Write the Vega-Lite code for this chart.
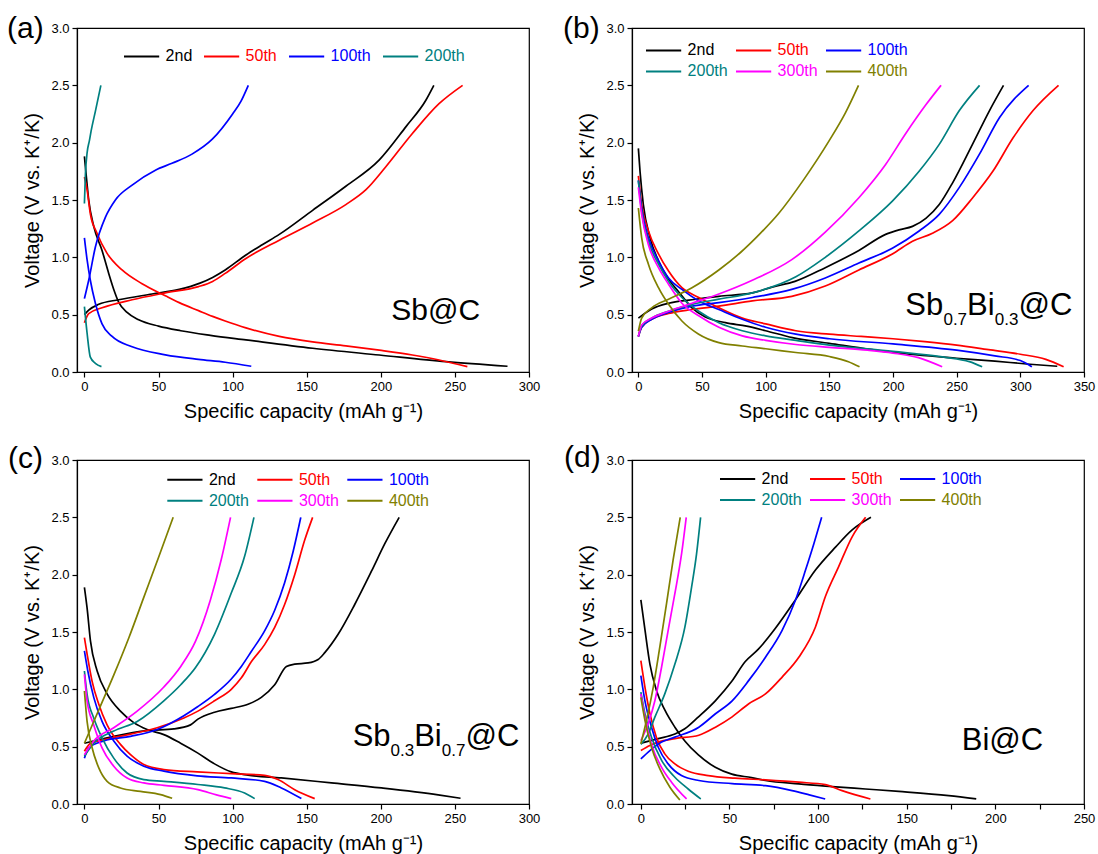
{
"$schema": "https://vega.github.io/schema/vega-lite/v6.json",
"background": "white",
"padding": {"left": 6, "top": 13, "right": 8, "bottom": 4},
"config": {
  "font": "Liberation Sans",
  "view": {"stroke": "#000000", "strokeWidth": 1.2},
  "axis": {"grid": false, "domainColor": "#000000", "domainWidth": 1.2, "tickColor": "#000000", "tickWidth": 1.2, "tickSize": 5, "labelColor": "#000000", "labelFontSize": 13, "labelPadding": 3, "labelFlush": false, "labelOverlap": false, "titleColor": "#000000", "titleFontSize": 20, "titleFontWeight": "normal"},
  "axisY": {"titlePadding": 8},
  "axisX": {"titlePadding": 8},
  "legend": {"symbolType": "M-2.2,0L2.2,0", "symbolSize": 256, "symbolStrokeWidth": 2, "labelFontSize": 16, "labelOffset": 15, "columnPadding": 3, "rowPadding": 4, "padding": 0},
  "title": {"anchor": "start", "frame": "group", "fontSize": 30, "fontWeight": "normal", "color": "#000000", "offset": 0, "baseline": "alphabetic"}
},
"datasets": {
"sbc": [
{"cycle":"2nd","branch":"discharge","cap":0,"V":1.88},{"cycle":"2nd","branch":"discharge","cap":1.1,"V":1.73},{"cycle":"2nd","branch":"discharge","cap":2.9,"V":1.5},{"cycle":"2nd","branch":"discharge","cap":6.3,"V":1.27},{"cycle":"2nd","branch":"discharge","cap":11.9,"V":1.06},{"cycle":"2nd","branch":"discharge","cap":16.4,"V":0.86},{"cycle":"2nd","branch":"discharge","cap":19.8,"V":0.72},{"cycle":"2nd","branch":"discharge","cap":23.1,"V":0.61},{"cycle":"2nd","branch":"discharge","cap":28.8,"V":0.52},{"cycle":"2nd","branch":"discharge","cap":36.6,"V":0.455},{"cycle":"2nd","branch":"discharge","cap":50,"V":0.4},{"cycle":"2nd","branch":"discharge","cap":65,"V":0.36},{"cycle":"2nd","branch":"discharge","cap":85,"V":0.32},{"cycle":"2nd","branch":"discharge","cap":109,"V":0.28},{"cycle":"2nd","branch":"discharge","cap":154,"V":0.207},{"cycle":"2nd","branch":"discharge","cap":199,"V":0.148},{"cycle":"2nd","branch":"discharge","cap":244,"V":0.09},{"cycle":"2nd","branch":"discharge","cap":285.5,"V":0.05},
{"cycle":"2nd","branch":"charge","cap":0,"V":0.5},{"cycle":"2nd","branch":"charge","cap":2.9,"V":0.54},{"cycle":"2nd","branch":"charge","cap":9.7,"V":0.59},{"cycle":"2nd","branch":"charge","cap":23.1,"V":0.63},{"cycle":"2nd","branch":"charge","cap":45.6,"V":0.68},{"cycle":"2nd","branch":"charge","cap":64,"V":0.72},{"cycle":"2nd","branch":"charge","cap":78,"V":0.775},{"cycle":"2nd","branch":"charge","cap":86.5,"V":0.825},{"cycle":"2nd","branch":"charge","cap":95,"V":0.89},{"cycle":"2nd","branch":"charge","cap":109,"V":1.02},{"cycle":"2nd","branch":"charge","cap":120,"V":1.11},{"cycle":"2nd","branch":"charge","cap":131.5,"V":1.2},{"cycle":"2nd","branch":"charge","cap":154,"V":1.41},{"cycle":"2nd","branch":"charge","cap":176.4,"V":1.62},{"cycle":"2nd","branch":"charge","cap":199,"V":1.85},{"cycle":"2nd","branch":"charge","cap":217,"V":2.14},{"cycle":"2nd","branch":"charge","cap":230.4,"V":2.37},{"cycle":"2nd","branch":"charge","cap":235.8,"V":2.5},
{"cycle":"50th","branch":"discharge","cap":0,"V":1.7},{"cycle":"50th","branch":"discharge","cap":1.8,"V":1.59},{"cycle":"50th","branch":"discharge","cap":4,"V":1.38},{"cycle":"50th","branch":"discharge","cap":8.5,"V":1.21},{"cycle":"50th","branch":"discharge","cap":15.3,"V":1.035},{"cycle":"50th","branch":"discharge","cap":25.4,"V":0.89},{"cycle":"50th","branch":"discharge","cap":38.9,"V":0.77},{"cycle":"50th","branch":"discharge","cap":54.6,"V":0.665},{"cycle":"50th","branch":"discharge","cap":64,"V":0.605},{"cycle":"50th","branch":"discharge","cap":77,"V":0.535},{"cycle":"50th","branch":"discharge","cap":86.5,"V":0.485},{"cycle":"50th","branch":"discharge","cap":95,"V":0.445},{"cycle":"50th","branch":"discharge","cap":109,"V":0.385},{"cycle":"50th","branch":"discharge","cap":131.5,"V":0.31},{"cycle":"50th","branch":"discharge","cap":154,"V":0.262},{"cycle":"50th","branch":"discharge","cap":176.4,"V":0.228},{"cycle":"50th","branch":"discharge","cap":199,"V":0.19},{"cycle":"50th","branch":"discharge","cap":221.3,"V":0.148},{"cycle":"50th","branch":"discharge","cap":239.3,"V":0.105},{"cycle":"50th","branch":"discharge","cap":258.4,"V":0.047},
{"cycle":"50th","branch":"charge","cap":0,"V":0.43},{"cycle":"50th","branch":"charge","cap":2.9,"V":0.51},{"cycle":"50th","branch":"charge","cap":11.9,"V":0.56},{"cycle":"50th","branch":"charge","cap":32.2,"V":0.63},{"cycle":"50th","branch":"charge","cap":54.6,"V":0.69},{"cycle":"50th","branch":"charge","cap":77,"V":0.745},{"cycle":"50th","branch":"charge","cap":86.5,"V":0.79},{"cycle":"50th","branch":"charge","cap":95,"V":0.86},{"cycle":"50th","branch":"charge","cap":109,"V":0.99},{"cycle":"50th","branch":"charge","cap":131.5,"V":1.15},{"cycle":"50th","branch":"charge","cap":154,"V":1.3},{"cycle":"50th","branch":"charge","cap":176.4,"V":1.46},{"cycle":"50th","branch":"charge","cap":190,"V":1.59},{"cycle":"50th","branch":"charge","cap":203.4,"V":1.79},{"cycle":"50th","branch":"charge","cap":221.3,"V":2.08},{"cycle":"50th","branch":"charge","cap":239.3,"V":2.34},{"cycle":"50th","branch":"charge","cap":255.2,"V":2.5},
{"cycle":"100th","branch":"discharge","cap":0,"V":1.17},{"cycle":"100th","branch":"discharge","cap":1.8,"V":0.98},{"cycle":"100th","branch":"discharge","cap":4,"V":0.8},{"cycle":"100th","branch":"discharge","cap":7.4,"V":0.6},{"cycle":"100th","branch":"discharge","cap":11.9,"V":0.42},{"cycle":"100th","branch":"discharge","cap":18.7,"V":0.31},{"cycle":"100th","branch":"discharge","cap":32.2,"V":0.22},{"cycle":"100th","branch":"discharge","cap":54.6,"V":0.15},{"cycle":"100th","branch":"discharge","cap":77,"V":0.11},{"cycle":"100th","branch":"discharge","cap":95,"V":0.085},{"cycle":"100th","branch":"discharge","cap":112.6,"V":0.05},
{"cycle":"100th","branch":"charge","cap":0,"V":0.64},{"cycle":"100th","branch":"charge","cap":2.9,"V":0.8},{"cycle":"100th","branch":"charge","cap":7.4,"V":1.09},{"cycle":"100th","branch":"charge","cap":14.2,"V":1.35},{"cycle":"100th","branch":"charge","cap":20.9,"V":1.5},{"cycle":"100th","branch":"charge","cap":32.2,"V":1.63},{"cycle":"100th","branch":"charge","cap":47.9,"V":1.76},{"cycle":"100th","branch":"charge","cap":59.1,"V":1.82},{"cycle":"100th","branch":"charge","cap":72.6,"V":1.9},{"cycle":"100th","branch":"charge","cap":86.3,"V":2.03},{"cycle":"100th","branch":"charge","cap":100,"V":2.25},{"cycle":"100th","branch":"charge","cap":105.6,"V":2.36},{"cycle":"100th","branch":"charge","cap":110.6,"V":2.5},
{"cycle":"200th","branch":"discharge","cap":0,"V":0.57},{"cycle":"200th","branch":"discharge","cap":1.8,"V":0.34},{"cycle":"200th","branch":"discharge","cap":4,"V":0.13},{"cycle":"200th","branch":"discharge","cap":7.4,"V":0.076},{"cycle":"200th","branch":"discharge","cap":11.5,"V":0.047},
{"cycle":"200th","branch":"charge","cap":0,"V":1.47},{"cycle":"200th","branch":"charge","cap":0.7,"V":1.73},{"cycle":"200th","branch":"charge","cap":1.8,"V":1.91},{"cycle":"200th","branch":"charge","cap":3.4,"V":2.02},{"cycle":"200th","branch":"charge","cap":4.5,"V":2.1},{"cycle":"200th","branch":"charge","cap":7.5,"V":2.28},{"cycle":"200th","branch":"charge","cap":11.1,"V":2.5}
],
"sb7": [
{"cycle":"2nd","branch":"discharge","cap":0,"V":1.95},{"cycle":"2nd","branch":"discharge","cap":1.3,"V":1.75},{"cycle":"2nd","branch":"discharge","cap":3.9,"V":1.46},{"cycle":"2nd","branch":"discharge","cap":9.2,"V":1.17},{"cycle":"2nd","branch":"discharge","cap":15.8,"V":0.97},{"cycle":"2nd","branch":"discharge","cap":23.7,"V":0.81},{"cycle":"2nd","branch":"discharge","cap":31.6,"V":0.7},{"cycle":"2nd","branch":"discharge","cap":42.1,"V":0.56},{"cycle":"2nd","branch":"discharge","cap":52.6,"V":0.48},{"cycle":"2nd","branch":"discharge","cap":68.4,"V":0.43},{"cycle":"2nd","branch":"discharge","cap":85,"V":0.4},{"cycle":"2nd","branch":"discharge","cap":100,"V":0.36},{"cycle":"2nd","branch":"discharge","cap":121,"V":0.3},{"cycle":"2nd","branch":"discharge","cap":150,"V":0.25},{"cycle":"2nd","branch":"discharge","cap":200,"V":0.17},{"cycle":"2nd","branch":"discharge","cap":250,"V":0.12},{"cycle":"2nd","branch":"discharge","cap":280,"V":0.095},{"cycle":"2nd","branch":"discharge","cap":305,"V":0.07},{"cycle":"2nd","branch":"discharge","cap":329,"V":0.05},
{"cycle":"2nd","branch":"charge","cap":0,"V":0.47},{"cycle":"2nd","branch":"charge","cap":10.5,"V":0.55},{"cycle":"2nd","branch":"charge","cap":23.7,"V":0.6},{"cycle":"2nd","branch":"charge","cap":42.1,"V":0.63},{"cycle":"2nd","branch":"charge","cap":63.2,"V":0.66},{"cycle":"2nd","branch":"charge","cap":89.5,"V":0.69},{"cycle":"2nd","branch":"charge","cap":105,"V":0.74},{"cycle":"2nd","branch":"charge","cap":123,"V":0.79},{"cycle":"2nd","branch":"charge","cap":146.8,"V":0.91},{"cycle":"2nd","branch":"charge","cap":173.2,"V":1.06},{"cycle":"2nd","branch":"charge","cap":194.2,"V":1.2},{"cycle":"2nd","branch":"charge","cap":204.7,"V":1.24},{"cycle":"2nd","branch":"charge","cap":215.3,"V":1.27},{"cycle":"2nd","branch":"charge","cap":225.8,"V":1.34},{"cycle":"2nd","branch":"charge","cap":236.3,"V":1.46},{"cycle":"2nd","branch":"charge","cap":246.8,"V":1.65},{"cycle":"2nd","branch":"charge","cap":262.6,"V":1.99},{"cycle":"2nd","branch":"charge","cap":275.8,"V":2.28},{"cycle":"2nd","branch":"charge","cap":286.8,"V":2.5},
{"cycle":"50th","branch":"discharge","cap":0,"V":1.71},{"cycle":"50th","branch":"discharge","cap":2.6,"V":1.46},{"cycle":"50th","branch":"discharge","cap":7.9,"V":1.23},{"cycle":"50th","branch":"discharge","cap":15.8,"V":1.03},{"cycle":"50th","branch":"discharge","cap":23.7,"V":0.88},{"cycle":"50th","branch":"discharge","cap":34.2,"V":0.735},{"cycle":"50th","branch":"discharge","cap":47.4,"V":0.65},{"cycle":"50th","branch":"discharge","cap":63.2,"V":0.56},{"cycle":"50th","branch":"discharge","cap":81.6,"V":0.47},{"cycle":"50th","branch":"discharge","cap":100,"V":0.42},{"cycle":"50th","branch":"discharge","cap":123.7,"V":0.36},{"cycle":"50th","branch":"discharge","cap":150,"V":0.33},{"cycle":"50th","branch":"discharge","cap":175,"V":0.31},{"cycle":"50th","branch":"discharge","cap":200,"V":0.29},{"cycle":"50th","branch":"discharge","cap":225,"V":0.265},{"cycle":"50th","branch":"discharge","cap":250,"V":0.235},{"cycle":"50th","branch":"discharge","cap":275,"V":0.195},{"cycle":"50th","branch":"discharge","cap":300,"V":0.155},{"cycle":"50th","branch":"discharge","cap":320,"V":0.11},{"cycle":"50th","branch":"discharge","cap":334,"V":0.045},
{"cycle":"50th","branch":"charge","cap":0,"V":0.31},{"cycle":"50th","branch":"charge","cap":2.6,"V":0.39},{"cycle":"50th","branch":"charge","cap":10.5,"V":0.46},{"cycle":"50th","branch":"charge","cap":23.7,"V":0.51},{"cycle":"50th","branch":"charge","cap":42.1,"V":0.545},{"cycle":"50th","branch":"charge","cap":63.2,"V":0.575},{"cycle":"50th","branch":"charge","cap":89.5,"V":0.62},{"cycle":"50th","branch":"charge","cap":120.5,"V":0.66},{"cycle":"50th","branch":"charge","cap":146.8,"V":0.75},{"cycle":"50th","branch":"charge","cap":173.2,"V":0.89},{"cycle":"50th","branch":"charge","cap":199.5,"V":1.03},{"cycle":"50th","branch":"charge","cap":215.3,"V":1.14},{"cycle":"50th","branch":"charge","cap":231,"V":1.21},{"cycle":"50th","branch":"charge","cap":246.8,"V":1.32},{"cycle":"50th","branch":"charge","cap":262.6,"V":1.52},{"cycle":"50th","branch":"charge","cap":278.4,"V":1.75},{"cycle":"50th","branch":"charge","cap":294.2,"V":2.04},{"cycle":"50th","branch":"charge","cap":310,"V":2.28},{"cycle":"50th","branch":"charge","cap":330,"V":2.5},
{"cycle":"100th","branch":"discharge","cap":0,"V":1.67},{"cycle":"100th","branch":"discharge","cap":2.6,"V":1.43},{"cycle":"100th","branch":"discharge","cap":7.9,"V":1.17},{"cycle":"100th","branch":"discharge","cap":15.8,"V":0.97},{"cycle":"100th","branch":"discharge","cap":23.7,"V":0.82},{"cycle":"100th","branch":"discharge","cap":34.2,"V":0.72},{"cycle":"100th","branch":"discharge","cap":47.4,"V":0.62},{"cycle":"100th","branch":"discharge","cap":63.2,"V":0.545},{"cycle":"100th","branch":"discharge","cap":81.6,"V":0.46},{"cycle":"100th","branch":"discharge","cap":100,"V":0.39},{"cycle":"100th","branch":"discharge","cap":123.7,"V":0.33},{"cycle":"100th","branch":"discharge","cap":150,"V":0.29},{"cycle":"100th","branch":"discharge","cap":200,"V":0.245},{"cycle":"100th","branch":"discharge","cap":250,"V":0.19},{"cycle":"100th","branch":"discharge","cap":280,"V":0.14},{"cycle":"100th","branch":"discharge","cap":300,"V":0.1},{"cycle":"100th","branch":"discharge","cap":309,"V":0.045},
{"cycle":"100th","branch":"charge","cap":0,"V":0.31},{"cycle":"100th","branch":"charge","cap":2.6,"V":0.39},{"cycle":"100th","branch":"charge","cap":10.5,"V":0.46},{"cycle":"100th","branch":"charge","cap":23.7,"V":0.52},{"cycle":"100th","branch":"charge","cap":42.1,"V":0.575},{"cycle":"100th","branch":"charge","cap":63.2,"V":0.605},{"cycle":"100th","branch":"charge","cap":89.5,"V":0.65},{"cycle":"100th","branch":"charge","cap":120.5,"V":0.72},{"cycle":"100th","branch":"charge","cap":146.8,"V":0.82},{"cycle":"100th","branch":"charge","cap":173.2,"V":0.95},{"cycle":"100th","branch":"charge","cap":199.5,"V":1.08},{"cycle":"100th","branch":"charge","cap":220.5,"V":1.23},{"cycle":"100th","branch":"charge","cap":236.3,"V":1.375},{"cycle":"100th","branch":"charge","cap":252.1,"V":1.61},{"cycle":"100th","branch":"charge","cap":267.9,"V":1.9},{"cycle":"100th","branch":"charge","cap":283.7,"V":2.22},{"cycle":"100th","branch":"charge","cap":306.5,"V":2.5},
{"cycle":"200th","branch":"discharge","cap":0,"V":1.67},{"cycle":"200th","branch":"discharge","cap":2.6,"V":1.4},{"cycle":"200th","branch":"discharge","cap":7.9,"V":1.14},{"cycle":"200th","branch":"discharge","cap":15.8,"V":0.94},{"cycle":"200th","branch":"discharge","cap":23.7,"V":0.79},{"cycle":"200th","branch":"discharge","cap":34.2,"V":0.65},{"cycle":"200th","branch":"discharge","cap":47.4,"V":0.53},{"cycle":"200th","branch":"discharge","cap":63.2,"V":0.43},{"cycle":"200th","branch":"discharge","cap":81.6,"V":0.36},{"cycle":"200th","branch":"discharge","cap":100,"V":0.315},{"cycle":"200th","branch":"discharge","cap":123.7,"V":0.276},{"cycle":"200th","branch":"discharge","cap":150,"V":0.235},{"cycle":"200th","branch":"discharge","cap":200,"V":0.18},{"cycle":"200th","branch":"discharge","cap":240,"V":0.13},{"cycle":"200th","branch":"discharge","cap":260,"V":0.09},{"cycle":"200th","branch":"discharge","cap":270,"V":0.045},
{"cycle":"200th","branch":"charge","cap":0,"V":0.31},{"cycle":"200th","branch":"charge","cap":2.6,"V":0.4},{"cycle":"200th","branch":"charge","cap":10.5,"V":0.47},{"cycle":"200th","branch":"charge","cap":23.7,"V":0.53},{"cycle":"200th","branch":"charge","cap":42.1,"V":0.59},{"cycle":"200th","branch":"charge","cap":63.2,"V":0.635},{"cycle":"200th","branch":"charge","cap":89.5,"V":0.69},{"cycle":"200th","branch":"charge","cap":123.7,"V":0.83},{"cycle":"200th","branch":"charge","cap":146.8,"V":1.0},{"cycle":"200th","branch":"charge","cap":173.2,"V":1.23},{"cycle":"200th","branch":"charge","cap":199.5,"V":1.49},{"cycle":"200th","branch":"charge","cap":220.5,"V":1.75},{"cycle":"200th","branch":"charge","cap":236.3,"V":1.985},{"cycle":"200th","branch":"charge","cap":252.1,"V":2.28},{"cycle":"200th","branch":"charge","cap":268,"V":2.5},
{"cycle":"300th","branch":"discharge","cap":0,"V":1.61},{"cycle":"300th","branch":"discharge","cap":2.6,"V":1.375},{"cycle":"300th","branch":"discharge","cap":7.9,"V":1.11},{"cycle":"300th","branch":"discharge","cap":15.8,"V":0.91},{"cycle":"300th","branch":"discharge","cap":23.7,"V":0.765},{"cycle":"300th","branch":"discharge","cap":34.2,"V":0.6},{"cycle":"300th","branch":"discharge","cap":47.4,"V":0.49},{"cycle":"300th","branch":"discharge","cap":63.2,"V":0.39},{"cycle":"300th","branch":"discharge","cap":81.6,"V":0.315},{"cycle":"300th","branch":"discharge","cap":100,"V":0.276},{"cycle":"300th","branch":"discharge","cap":123.7,"V":0.24},{"cycle":"300th","branch":"discharge","cap":150,"V":0.215},{"cycle":"300th","branch":"discharge","cap":180,"V":0.19},{"cycle":"300th","branch":"discharge","cap":200,"V":0.165},{"cycle":"300th","branch":"discharge","cap":220,"V":0.125},{"cycle":"300th","branch":"discharge","cap":238.6,"V":0.045},
{"cycle":"300th","branch":"charge","cap":0,"V":0.31},{"cycle":"300th","branch":"charge","cap":2.6,"V":0.41},{"cycle":"300th","branch":"charge","cap":10.5,"V":0.47},{"cycle":"300th","branch":"charge","cap":23.7,"V":0.53},{"cycle":"300th","branch":"charge","cap":42.1,"V":0.6},{"cycle":"300th","branch":"charge","cap":63.2,"V":0.68},{"cycle":"300th","branch":"charge","cap":89.5,"V":0.8},{"cycle":"300th","branch":"charge","cap":120.5,"V":0.98},{"cycle":"300th","branch":"charge","cap":146.8,"V":1.22},{"cycle":"300th","branch":"charge","cap":173.2,"V":1.52},{"cycle":"300th","branch":"charge","cap":194.2,"V":1.81},{"cycle":"300th","branch":"charge","cap":210,"V":2.08},{"cycle":"300th","branch":"charge","cap":225.8,"V":2.33},{"cycle":"300th","branch":"charge","cap":237.7,"V":2.5},
{"cycle":"400th","branch":"discharge","cap":0,"V":1.43},{"cycle":"400th","branch":"discharge","cap":2.6,"V":1.17},{"cycle":"400th","branch":"discharge","cap":7.9,"V":0.94},{"cycle":"400th","branch":"discharge","cap":15.8,"V":0.735},{"cycle":"400th","branch":"discharge","cap":23.7,"V":0.59},{"cycle":"400th","branch":"discharge","cap":34.2,"V":0.445},{"cycle":"400th","branch":"discharge","cap":47.4,"V":0.33},{"cycle":"400th","branch":"discharge","cap":63.2,"V":0.256},{"cycle":"400th","branch":"discharge","cap":81.6,"V":0.227},{"cycle":"400th","branch":"discharge","cap":100,"V":0.203},{"cycle":"400th","branch":"discharge","cap":123.7,"V":0.17},{"cycle":"400th","branch":"discharge","cap":150,"V":0.135},{"cycle":"400th","branch":"discharge","cap":165,"V":0.09},{"cycle":"400th","branch":"discharge","cap":173.7,"V":0.045},
{"cycle":"400th","branch":"charge","cap":0,"V":0.355},{"cycle":"400th","branch":"charge","cap":2.6,"V":0.47},{"cycle":"400th","branch":"charge","cap":10.5,"V":0.56},{"cycle":"400th","branch":"charge","cap":23.7,"V":0.635},{"cycle":"400th","branch":"charge","cap":42.1,"V":0.735},{"cycle":"400th","branch":"charge","cap":63.2,"V":0.89},{"cycle":"400th","branch":"charge","cap":80,"V":1.04},{"cycle":"400th","branch":"charge","cap":95,"V":1.2},{"cycle":"400th","branch":"charge","cap":110,"V":1.38},{"cycle":"400th","branch":"charge","cap":130,"V":1.68},{"cycle":"400th","branch":"charge","cap":150,"V":2.02},{"cycle":"400th","branch":"charge","cap":162.6,"V":2.26},{"cycle":"400th","branch":"charge","cap":172.9,"V":2.5}
],
"sb3": [
{"cycle":"2nd","branch":"discharge","cap":0,"V":1.89},{"cycle":"2nd","branch":"discharge","cap":1.8,"V":1.71},{"cycle":"2nd","branch":"discharge","cap":4.1,"V":1.42},{"cycle":"2nd","branch":"discharge","cap":8.6,"V":1.16},{"cycle":"2nd","branch":"discharge","cap":15.3,"V":0.96},{"cycle":"2nd","branch":"discharge","cap":24.3,"V":0.81},{"cycle":"2nd","branch":"discharge","cap":33.3,"V":0.71},{"cycle":"2nd","branch":"discharge","cap":42.3,"V":0.65},{"cycle":"2nd","branch":"discharge","cap":53.6,"V":0.605},{"cycle":"2nd","branch":"discharge","cap":64.9,"V":0.53},{"cycle":"2nd","branch":"discharge","cap":76.3,"V":0.446},{"cycle":"2nd","branch":"discharge","cap":87.8,"V":0.35},{"cycle":"2nd","branch":"discharge","cap":99.1,"V":0.28},{"cycle":"2nd","branch":"discharge","cap":110.4,"V":0.252},{"cycle":"2nd","branch":"discharge","cap":132.9,"V":0.227},{"cycle":"2nd","branch":"discharge","cap":166.7,"V":0.184},{"cycle":"2nd","branch":"discharge","cap":200.5,"V":0.14},{"cycle":"2nd","branch":"discharge","cap":238.7,"V":0.08},{"cycle":"2nd","branch":"discharge","cap":253.8,"V":0.05},
{"cycle":"2nd","branch":"charge","cap":0,"V":0.53},{"cycle":"2nd","branch":"charge","cap":19.8,"V":0.59},{"cycle":"2nd","branch":"charge","cap":42.3,"V":0.64},{"cycle":"2nd","branch":"charge","cap":60.4,"V":0.655},{"cycle":"2nd","branch":"charge","cap":71.6,"V":0.69},{"cycle":"2nd","branch":"charge","cap":76.6,"V":0.74},{"cycle":"2nd","branch":"charge","cap":87.8,"V":0.8},{"cycle":"2nd","branch":"charge","cap":99.1,"V":0.834},{"cycle":"2nd","branch":"charge","cap":110.4,"V":0.87},{"cycle":"2nd","branch":"charge","cap":119.4,"V":0.93},{"cycle":"2nd","branch":"charge","cap":128.4,"V":1.04},{"cycle":"2nd","branch":"charge","cap":136.3,"V":1.2},{"cycle":"2nd","branch":"charge","cap":141.9,"V":1.22},{"cycle":"2nd","branch":"charge","cap":150.9,"V":1.23},{"cycle":"2nd","branch":"charge","cap":157.7,"V":1.26},{"cycle":"2nd","branch":"charge","cap":162.2,"V":1.32},{"cycle":"2nd","branch":"charge","cap":171.2,"V":1.48},{"cycle":"2nd","branch":"charge","cap":182.4,"V":1.74},{"cycle":"2nd","branch":"charge","cap":193.7,"V":2.03},{"cycle":"2nd","branch":"charge","cap":202.7,"V":2.27},{"cycle":"2nd","branch":"charge","cap":212.4,"V":2.5},
{"cycle":"50th","branch":"discharge","cap":0,"V":1.45},{"cycle":"50th","branch":"discharge","cap":1.8,"V":1.31},{"cycle":"50th","branch":"discharge","cap":5.2,"V":1.07},{"cycle":"50th","branch":"discharge","cap":9.7,"V":0.87},{"cycle":"50th","branch":"discharge","cap":15.3,"V":0.69},{"cycle":"50th","branch":"discharge","cap":24.3,"V":0.52},{"cycle":"50th","branch":"discharge","cap":31.1,"V":0.43},{"cycle":"50th","branch":"discharge","cap":40.1,"V":0.344},{"cycle":"50th","branch":"discharge","cap":53.6,"V":0.3},{"cycle":"50th","branch":"discharge","cap":76.1,"V":0.28},{"cycle":"50th","branch":"discharge","cap":99.1,"V":0.265},{"cycle":"50th","branch":"discharge","cap":121.6,"V":0.25},{"cycle":"50th","branch":"discharge","cap":130.6,"V":0.213},{"cycle":"50th","branch":"discharge","cap":141.9,"V":0.125},{"cycle":"50th","branch":"discharge","cap":155.4,"V":0.047},
{"cycle":"50th","branch":"charge","cap":0,"V":0.46},{"cycle":"50th","branch":"charge","cap":4.1,"V":0.53},{"cycle":"50th","branch":"charge","cap":13.1,"V":0.56},{"cycle":"50th","branch":"charge","cap":31.1,"V":0.61},{"cycle":"50th","branch":"charge","cap":49.1,"V":0.665},{"cycle":"50th","branch":"charge","cap":67.1,"V":0.75},{"cycle":"50th","branch":"charge","cap":76.6,"V":0.81},{"cycle":"50th","branch":"charge","cap":87.8,"V":0.9},{"cycle":"50th","branch":"charge","cap":99.1,"V":1.0},{"cycle":"50th","branch":"charge","cap":105.9,"V":1.1},{"cycle":"50th","branch":"charge","cap":112.6,"V":1.24},{"cycle":"50th","branch":"charge","cap":121.6,"V":1.39},{"cycle":"50th","branch":"charge","cap":128.4,"V":1.54},{"cycle":"50th","branch":"charge","cap":135.1,"V":1.74},{"cycle":"50th","branch":"charge","cap":141.9,"V":2.0},{"cycle":"50th","branch":"charge","cap":148.6,"V":2.3},{"cycle":"50th","branch":"charge","cap":154,"V":2.5},
{"cycle":"100th","branch":"discharge","cap":0,"V":1.335},{"cycle":"100th","branch":"discharge","cap":2.3,"V":1.16},{"cycle":"100th","branch":"discharge","cap":6.3,"V":0.93},{"cycle":"100th","branch":"discharge","cap":11.9,"V":0.72},{"cycle":"100th","branch":"discharge","cap":19.8,"V":0.55},{"cycle":"100th","branch":"discharge","cap":28.8,"V":0.417},{"cycle":"100th","branch":"discharge","cap":40.1,"V":0.33},{"cycle":"100th","branch":"discharge","cap":53.6,"V":0.286},{"cycle":"100th","branch":"discharge","cap":76.1,"V":0.245},{"cycle":"100th","branch":"discharge","cap":99.1,"V":0.227},{"cycle":"100th","branch":"discharge","cap":121.6,"V":0.198},{"cycle":"100th","branch":"discharge","cap":132.9,"V":0.14},{"cycle":"100th","branch":"discharge","cap":146.4,"V":0.047},
{"cycle":"100th","branch":"charge","cap":0,"V":0.4},{"cycle":"100th","branch":"charge","cap":2.9,"V":0.49},{"cycle":"100th","branch":"charge","cap":13.1,"V":0.55},{"cycle":"100th","branch":"charge","cap":31.1,"V":0.59},{"cycle":"100th","branch":"charge","cap":49.1,"V":0.65},{"cycle":"100th","branch":"charge","cap":67.1,"V":0.77},{"cycle":"100th","branch":"charge","cap":76.6,"V":0.85},{"cycle":"100th","branch":"charge","cap":87.8,"V":0.956},{"cycle":"100th","branch":"charge","cap":99.1,"V":1.09},{"cycle":"100th","branch":"charge","cap":105.9,"V":1.2},{"cycle":"100th","branch":"charge","cap":112.6,"V":1.33},{"cycle":"100th","branch":"charge","cap":121.6,"V":1.51},{"cycle":"100th","branch":"charge","cap":128.4,"V":1.69},{"cycle":"100th","branch":"charge","cap":135.1,"V":1.93},{"cycle":"100th","branch":"charge","cap":140.8,"V":2.2},{"cycle":"100th","branch":"charge","cap":146,"V":2.5},
{"cycle":"200th","branch":"discharge","cap":0,"V":1.16},{"cycle":"200th","branch":"discharge","cap":1.8,"V":0.956},{"cycle":"200th","branch":"discharge","cap":6.3,"V":0.75},{"cycle":"200th","branch":"discharge","cap":11.9,"V":0.577},{"cycle":"200th","branch":"discharge","cap":19.8,"V":0.4},{"cycle":"200th","branch":"discharge","cap":28.8,"V":0.27},{"cycle":"200th","branch":"discharge","cap":40.1,"V":0.213},{"cycle":"200th","branch":"discharge","cap":53.6,"V":0.198},{"cycle":"200th","branch":"discharge","cap":76.6,"V":0.17},{"cycle":"200th","branch":"discharge","cap":94.6,"V":0.14},{"cycle":"200th","branch":"discharge","cap":108.1,"V":0.096},{"cycle":"200th","branch":"discharge","cap":114.9,"V":0.047},
{"cycle":"200th","branch":"charge","cap":0,"V":0.417},{"cycle":"200th","branch":"charge","cap":6.3,"V":0.53},{"cycle":"200th","branch":"charge","cap":19.8,"V":0.636},{"cycle":"200th","branch":"charge","cap":35.6,"V":0.72},{"cycle":"200th","branch":"charge","cap":53.6,"V":0.9},{"cycle":"200th","branch":"charge","cap":65,"V":1.04},{"cycle":"200th","branch":"charge","cap":75,"V":1.19},{"cycle":"200th","branch":"charge","cap":87.8,"V":1.48},{"cycle":"200th","branch":"charge","cap":99.1,"V":1.84},{"cycle":"200th","branch":"charge","cap":108.1,"V":2.16},{"cycle":"200th","branch":"charge","cap":114.4,"V":2.5},
{"cycle":"300th","branch":"discharge","cap":0,"V":1.13},{"cycle":"300th","branch":"discharge","cap":1.8,"V":0.9},{"cycle":"300th","branch":"discharge","cap":6.3,"V":0.69},{"cycle":"300th","branch":"discharge","cap":11.9,"V":0.49},{"cycle":"300th","branch":"discharge","cap":19.8,"V":0.33},{"cycle":"300th","branch":"discharge","cap":28.8,"V":0.227},{"cycle":"300th","branch":"discharge","cap":40.1,"V":0.184},{"cycle":"300th","branch":"discharge","cap":53.6,"V":0.163},{"cycle":"300th","branch":"discharge","cap":76.6,"V":0.125},{"cycle":"300th","branch":"discharge","cap":89.1,"V":0.08},{"cycle":"300th","branch":"discharge","cap":99.1,"V":0.047},
{"cycle":"300th","branch":"charge","cap":0,"V":0.43},{"cycle":"300th","branch":"charge","cap":6.3,"V":0.55},{"cycle":"300th","branch":"charge","cap":19.8,"V":0.665},{"cycle":"300th","branch":"charge","cap":35.6,"V":0.81},{"cycle":"300th","branch":"charge","cap":53.6,"V":1.02},{"cycle":"300th","branch":"charge","cap":65,"V":1.2},{"cycle":"300th","branch":"charge","cap":75,"V":1.42},{"cycle":"300th","branch":"charge","cap":85,"V":1.78},{"cycle":"300th","branch":"charge","cap":92.3,"V":2.13},{"cycle":"300th","branch":"charge","cap":98.6,"V":2.5},
{"cycle":"400th","branch":"discharge","cap":0,"V":0.985},{"cycle":"400th","branch":"discharge","cap":1.8,"V":0.72},{"cycle":"400th","branch":"discharge","cap":5.2,"V":0.49},{"cycle":"400th","branch":"discharge","cap":9.7,"V":0.315},{"cycle":"400th","branch":"discharge","cap":15.3,"V":0.198},{"cycle":"400th","branch":"discharge","cap":24.3,"V":0.14},{"cycle":"400th","branch":"discharge","cap":37.8,"V":0.11},{"cycle":"400th","branch":"discharge","cap":51.4,"V":0.082},{"cycle":"400th","branch":"discharge","cap":59.2,"V":0.05},
{"cycle":"400th","branch":"charge","cap":0,"V":0.53},{"cycle":"400th","branch":"charge","cap":5,"V":0.68},{"cycle":"400th","branch":"charge","cap":10,"V":0.83},{"cycle":"400th","branch":"charge","cap":20,"V":1.13},{"cycle":"400th","branch":"charge","cap":30,"V":1.45},{"cycle":"400th","branch":"charge","cap":40,"V":1.8},{"cycle":"400th","branch":"charge","cap":50,"V":2.15},{"cycle":"400th","branch":"charge","cap":59.9,"V":2.5}
],
"bic": [
{"cycle":"2nd","branch":"discharge","cap":0,"V":1.78},{"cycle":"2nd","branch":"discharge","cap":2.3,"V":1.52},{"cycle":"2nd","branch":"discharge","cap":5.1,"V":1.22},{"cycle":"2nd","branch":"discharge","cap":8.8,"V":0.99},{"cycle":"2nd","branch":"discharge","cap":13.5,"V":0.82},{"cycle":"2nd","branch":"discharge","cap":19.2,"V":0.67},{"cycle":"2nd","branch":"discharge","cap":24.8,"V":0.55},{"cycle":"2nd","branch":"discharge","cap":32.3,"V":0.43},{"cycle":"2nd","branch":"discharge","cap":42,"V":0.32},{"cycle":"2nd","branch":"discharge","cap":51.3,"V":0.26},{"cycle":"2nd","branch":"discharge","cap":62.4,"V":0.23},{"cycle":"2nd","branch":"discharge","cap":70.3,"V":0.205},{"cycle":"2nd","branch":"discharge","cap":89.1,"V":0.175},{"cycle":"2nd","branch":"discharge","cap":107.9,"V":0.152},{"cycle":"2nd","branch":"discharge","cap":126.7,"V":0.131},{"cycle":"2nd","branch":"discharge","cap":145.5,"V":0.11},{"cycle":"2nd","branch":"discharge","cap":173.7,"V":0.073},{"cycle":"2nd","branch":"discharge","cap":189.2,"V":0.044},
{"cycle":"2nd","branch":"charge","cap":0,"V":0.53},{"cycle":"2nd","branch":"charge","cap":9.8,"V":0.57},{"cycle":"2nd","branch":"charge","cap":19.2,"V":0.61},{"cycle":"2nd","branch":"charge","cap":24.8,"V":0.656},{"cycle":"2nd","branch":"charge","cap":32.5,"V":0.76},{"cycle":"2nd","branch":"charge","cap":42,"V":0.9},{"cycle":"2nd","branch":"charge","cap":51.3,"V":1.07},{"cycle":"2nd","branch":"charge","cap":58.8,"V":1.24},{"cycle":"2nd","branch":"charge","cap":66.3,"V":1.35},{"cycle":"2nd","branch":"charge","cap":75.8,"V":1.53},{"cycle":"2nd","branch":"charge","cap":87.2,"V":1.78},{"cycle":"2nd","branch":"charge","cap":98.5,"V":2.04},{"cycle":"2nd","branch":"charge","cap":109.8,"V":2.24},{"cycle":"2nd","branch":"charge","cap":119.2,"V":2.39},{"cycle":"2nd","branch":"charge","cap":129.8,"V":2.5},
{"cycle":"50th","branch":"discharge","cap":0,"V":1.25},{"cycle":"50th","branch":"discharge","cap":2.3,"V":1.02},{"cycle":"50th","branch":"discharge","cap":5.1,"V":0.79},{"cycle":"50th","branch":"discharge","cap":8.8,"V":0.58},{"cycle":"50th","branch":"discharge","cap":13.5,"V":0.437},{"cycle":"50th","branch":"discharge","cap":19.2,"V":0.35},{"cycle":"50th","branch":"discharge","cap":26.7,"V":0.286},{"cycle":"50th","branch":"discharge","cap":38,"V":0.248},{"cycle":"50th","branch":"discharge","cap":53,"V":0.225},{"cycle":"50th","branch":"discharge","cap":70.3,"V":0.21},{"cycle":"50th","branch":"discharge","cap":89.1,"V":0.19},{"cycle":"50th","branch":"discharge","cap":104.1,"V":0.169},{"cycle":"50th","branch":"discharge","cap":113.5,"V":0.117},{"cycle":"50th","branch":"discharge","cap":129.5,"V":0.044},
{"cycle":"50th","branch":"charge","cap":0,"V":0.466},{"cycle":"50th","branch":"charge","cap":5.1,"V":0.51},{"cycle":"50th","branch":"charge","cap":9.8,"V":0.54},{"cycle":"50th","branch":"charge","cap":19.2,"V":0.57},{"cycle":"50th","branch":"charge","cap":32.7,"V":0.6},{"cycle":"50th","branch":"charge","cap":42.1,"V":0.67},{"cycle":"50th","branch":"charge","cap":51.5,"V":0.76},{"cycle":"50th","branch":"charge","cap":60.9,"V":0.874},{"cycle":"50th","branch":"charge","cap":70.3,"V":0.96},{"cycle":"50th","branch":"charge","cap":79.7,"V":1.107},{"cycle":"50th","branch":"charge","cap":89.1,"V":1.28},{"cycle":"50th","branch":"charge","cap":98.5,"V":1.544},{"cycle":"50th","branch":"charge","cap":104.1,"V":1.81},{"cycle":"50th","branch":"charge","cap":111.6,"V":2.07},{"cycle":"50th","branch":"charge","cap":119.2,"V":2.33},{"cycle":"50th","branch":"charge","cap":126.8,"V":2.5},
{"cycle":"100th","branch":"discharge","cap":0,"V":1.12},{"cycle":"100th","branch":"discharge","cap":2.3,"V":0.9},{"cycle":"100th","branch":"discharge","cap":6,"V":0.67},{"cycle":"100th","branch":"discharge","cap":9.8,"V":0.495},{"cycle":"100th","branch":"discharge","cap":15.4,"V":0.35},{"cycle":"100th","branch":"discharge","cap":22.9,"V":0.248},{"cycle":"100th","branch":"discharge","cap":32.7,"V":0.205},{"cycle":"100th","branch":"discharge","cap":51.5,"V":0.178},{"cycle":"100th","branch":"discharge","cap":70.3,"V":0.16},{"cycle":"100th","branch":"discharge","cap":85.3,"V":0.117},{"cycle":"100th","branch":"discharge","cap":95,"V":0.08},{"cycle":"100th","branch":"discharge","cap":104,"V":0.044},
{"cycle":"100th","branch":"charge","cap":0,"V":0.393},{"cycle":"100th","branch":"charge","cap":5.1,"V":0.466},{"cycle":"100th","branch":"charge","cap":11.7,"V":0.54},{"cycle":"100th","branch":"charge","cap":19.2,"V":0.583},{"cycle":"100th","branch":"charge","cap":32.7,"V":0.67},{"cycle":"100th","branch":"charge","cap":42.1,"V":0.787},{"cycle":"100th","branch":"charge","cap":51.5,"V":0.9},{"cycle":"100th","branch":"charge","cap":60.9,"V":1.078},{"cycle":"100th","branch":"charge","cap":70.3,"V":1.28},{"cycle":"100th","branch":"charge","cap":79.7,"V":1.515},{"cycle":"100th","branch":"charge","cap":87.2,"V":1.777},{"cycle":"100th","branch":"charge","cap":92.9,"V":2.04},{"cycle":"100th","branch":"charge","cap":97.6,"V":2.27},{"cycle":"100th","branch":"charge","cap":102,"V":2.5},
{"cycle":"200th","branch":"discharge","cap":0,"V":0.976},{"cycle":"200th","branch":"discharge","cap":2.3,"V":0.787},{"cycle":"200th","branch":"discharge","cap":6,"V":0.583},{"cycle":"200th","branch":"discharge","cap":11.7,"V":0.38},{"cycle":"200th","branch":"discharge","cap":19.2,"V":0.233},{"cycle":"200th","branch":"discharge","cap":26.7,"V":0.131},{"cycle":"200th","branch":"discharge","cap":33.8,"V":0.044},
{"cycle":"200th","branch":"charge","cap":0,"V":0.52},{"cycle":"200th","branch":"charge","cap":4.1,"V":0.61},{"cycle":"200th","branch":"charge","cap":7.9,"V":0.757},{"cycle":"200th","branch":"charge","cap":13.5,"V":0.96},{"cycle":"200th","branch":"charge","cap":19.2,"V":1.22},{"cycle":"200th","branch":"charge","cap":24.8,"V":1.54},{"cycle":"200th","branch":"charge","cap":28.6,"V":1.89},{"cycle":"200th","branch":"charge","cap":31.4,"V":2.18},{"cycle":"200th","branch":"charge","cap":33.7,"V":2.5},
{"cycle":"300th","branch":"discharge","cap":0,"V":0.96},{"cycle":"300th","branch":"discharge","cap":2.3,"V":0.757},{"cycle":"300th","branch":"discharge","cap":6,"V":0.52},{"cycle":"300th","branch":"discharge","cap":11.7,"V":0.32},{"cycle":"300th","branch":"discharge","cap":17.3,"V":0.19},{"cycle":"300th","branch":"discharge","cap":25.8,"V":0.044},
{"cycle":"300th","branch":"charge","cap":0,"V":0.553},{"cycle":"300th","branch":"charge","cap":4.1,"V":0.7},{"cycle":"300th","branch":"charge","cap":7.9,"V":0.9},{"cycle":"300th","branch":"charge","cap":11.7,"V":1.195},{"cycle":"300th","branch":"charge","cap":15.4,"V":1.515},{"cycle":"300th","branch":"charge","cap":19.2,"V":1.836},{"cycle":"300th","branch":"charge","cap":23,"V":2.185},{"cycle":"300th","branch":"charge","cap":25.6,"V":2.5},
{"cycle":"400th","branch":"discharge","cap":0,"V":0.93},{"cycle":"400th","branch":"discharge","cap":2.3,"V":0.73},{"cycle":"400th","branch":"discharge","cap":6,"V":0.495},{"cycle":"400th","branch":"discharge","cap":10.7,"V":0.306},{"cycle":"400th","branch":"discharge","cap":16.4,"V":0.146},{"cycle":"400th","branch":"discharge","cap":22,"V":0.035},
{"cycle":"400th","branch":"charge","cap":0,"V":0.525},{"cycle":"400th","branch":"charge","cap":3.2,"V":0.73},{"cycle":"400th","branch":"charge","cap":7,"V":1.02},{"cycle":"400th","branch":"charge","cap":10.7,"V":1.37},{"cycle":"400th","branch":"charge","cap":14.5,"V":1.75},{"cycle":"400th","branch":"charge","cap":18.2,"V":2.13},{"cycle":"400th","branch":"charge","cap":22.2,"V":2.5}
]
},
"columns": 2,
"spacing": {"row": 88, "column": 103},
"bounds": "flush",
"resolve": {"scale": {"x": "independent", "y": "independent", "color": "independent"}, "legend": {"color": "independent"}},
"concat": [
{
 "width": 452, "height": 344,
 "title": {"text": "(a)", "dx": -70, "dy": 26},
 "layer": [
  {"data": {"name": "sbc"},
   "mark": {"type": "line", "interpolate": "monotone", "strokeWidth": 1.7},
   "encoding": {
    "x": {"field": "cap", "type": "quantitative", "scale": {"domain": [-5, 300], "nice": false, "zero": false},
          "axis": {"title": "Specific capacity (mAh g⁻¹)", "values": [0,25,50,75,100,125,150,175,200,225,250,275,300], "labelExpr": "datum.value % 50 === 0 ? datum.label : ''"}},
    "y": {"field": "V", "type": "quantitative", "scale": {"domain": [0, 3], "nice": false, "zero": false},
          "axis": {"title": "Voltage (V vs. K⁺/K)", "values": [0,0.25,0.5,0.75,1,1.25,1.5,1.75,2,2.25,2.5,2.75,3], "format": ".1f", "labelExpr": "datum.value % 0.5 === 0 ? datum.label : ''"}},
    "color": {"field": "cycle", "type": "nominal",
              "scale": {"domain": ["2nd","50th","100th","200th"], "range": ["#000000","#ff0000","#0000ff","#008080"]},
              "legend": {"title": null, "orient": "none", "legendX": 55.6, "legendY": 19.4, "direction": "horizontal", "columns": 4, "columnPadding": 7,
                         "encode": {"labels": {"update": {"fill": {"signal": "datum.value === '2nd' ? '#000000' : datum.value === '50th' ? '#ff0000' : datum.value === '100th' ? '#0000ff' : datum.value === '200th' ? '#008080' : datum.value === '300th' ? '#ff00ff' : '#808000'"}}}}}},
    "detail": {"field": "branch"}
   }},
  {"data": {"values": [{}]},
   "mark": {"type": "text", "text": "Sb@C", "fontSize": 30, "align": "center", "baseline": "alphabetic", "color": "#000000"},
   "encoding": {"x": {"datum": 237}, "y": {"datum": 0.455}}}
 ]
},
{
 "width": 452, "height": 344,
 "title": {"text": "(b)", "dx": -69, "dy": 26},
 "layer": [
  {"data": {"name": "sb7"},
   "mark": {"type": "line", "interpolate": "monotone", "strokeWidth": 1.7},
   "encoding": {
    "x": {"field": "cap", "type": "quantitative", "scale": {"domain": [-5, 350], "nice": false, "zero": false},
          "axis": {"title": "Specific capacity (mAh g⁻¹)", "values": [0,25,50,75,100,125,150,175,200,225,250,275,300,325,350], "labelExpr": "datum.value % 50 === 0 ? datum.label : ''"}},
    "y": {"field": "V", "type": "quantitative", "scale": {"domain": [0, 3], "nice": false, "zero": false},
          "axis": {"title": "Voltage (V vs. K⁺/K)", "values": [0,0.25,0.5,0.75,1,1.25,1.5,1.75,2,2.25,2.5,2.75,3], "format": ".1f", "labelExpr": "datum.value % 0.5 === 0 ? datum.label : ''"}},
    "color": {"field": "cycle", "type": "nominal",
              "scale": {"domain": ["2nd","50th","100th","200th","300th","400th"], "range": ["#000000","#ff0000","#0000ff","#008080","#ff00ff","#808000"]},
              "legend": {"title": null, "orient": "none", "legendX": 22.6, "legendY": 13.4, "direction": "horizontal", "columns": 3,
                         "encode": {"labels": {"update": {"fill": {"signal": "datum.value === '2nd' ? '#000000' : datum.value === '50th' ? '#ff0000' : datum.value === '100th' ? '#0000ff' : datum.value === '200th' ? '#008080' : datum.value === '300th' ? '#ff00ff' : '#808000'"}}}}}},
    "detail": {"field": "branch"}
   }},
  {"data": {"values": [{}]}, "mark": {"type": "text", "text": "Sb", "fontSize": 31, "align": "left", "baseline": "alphabetic", "color": "#000000"}, "encoding": {"x": {"datum": 209.7}, "y": {"datum": 0.5}}},
  {"data": {"values": [{}]}, "mark": {"type": "text", "text": "0.7", "fontSize": 17, "align": "left", "baseline": "alphabetic", "color": "#000000"}, "encoding": {"x": {"datum": 239.6}, "y": {"datum": 0.41}}},
  {"data": {"values": [{}]}, "mark": {"type": "text", "text": "Bi", "fontSize": 31, "align": "left", "baseline": "alphabetic", "color": "#000000"}, "encoding": {"x": {"datum": 258.2}, "y": {"datum": 0.5}}},
  {"data": {"values": [{}]}, "mark": {"type": "text", "text": "0.3", "fontSize": 17, "align": "left", "baseline": "alphabetic", "color": "#000000"}, "encoding": {"x": {"datum": 280}, "y": {"datum": 0.41}}},
  {"data": {"values": [{}]}, "mark": {"type": "text", "text": "@C", "fontSize": 31, "align": "left", "baseline": "alphabetic", "color": "#000000"}, "encoding": {"x": {"datum": 298.6}, "y": {"datum": 0.5}}}
 ]
},
{
 "width": 452, "height": 344,
 "title": {"text": "(c)", "dx": -69, "dy": 24},
 "layer": [
  {"data": {"name": "sb3"},
   "mark": {"type": "line", "interpolate": "monotone", "strokeWidth": 1.7},
   "encoding": {
    "x": {"field": "cap", "type": "quantitative", "scale": {"domain": [-5, 300], "nice": false, "zero": false},
          "axis": {"title": "Specific capacity (mAh g⁻¹)", "values": [0,25,50,75,100,125,150,175,200,225,250,275,300], "labelExpr": "datum.value % 50 === 0 ? datum.label : ''"}},
    "y": {"field": "V", "type": "quantitative", "scale": {"domain": [0, 3], "nice": false, "zero": false},
          "axis": {"title": "Voltage (V vs. K⁺/K)", "values": [0,0.25,0.5,0.75,1,1.25,1.5,1.75,2,2.25,2.5,2.75,3], "format": ".1f", "labelExpr": "datum.value % 0.5 === 0 ? datum.label : ''"}},
    "color": {"field": "cycle", "type": "nominal",
              "scale": {"domain": ["2nd","50th","100th","200th","300th","400th"], "range": ["#000000","#ff0000","#0000ff","#008080","#ff00ff","#808000"]},
              "legend": {"title": null, "orient": "none", "legendX": 98.9, "legendY": 10.8, "direction": "horizontal", "columns": 3,
                         "encode": {"labels": {"update": {"fill": {"signal": "datum.value === '2nd' ? '#000000' : datum.value === '50th' ? '#ff0000' : datum.value === '100th' ? '#0000ff' : datum.value === '200th' ? '#008080' : datum.value === '300th' ? '#ff00ff' : '#808000'"}}}}}},
    "detail": {"field": "branch"}
   }},
  {"data": {"values": [{}]}, "mark": {"type": "text", "text": "Sb", "fontSize": 31, "align": "left", "baseline": "alphabetic", "color": "#000000"}, "encoding": {"x": {"datum": 181}, "y": {"datum": 0.505}}},
  {"data": {"values": [{}]}, "mark": {"type": "text", "text": "0.3", "fontSize": 17, "align": "left", "baseline": "alphabetic", "color": "#000000"}, "encoding": {"x": {"datum": 206.6}, "y": {"datum": 0.42}}},
  {"data": {"values": [{}]}, "mark": {"type": "text", "text": "Bi", "fontSize": 31, "align": "left", "baseline": "alphabetic", "color": "#000000"}, "encoding": {"x": {"datum": 222.5}, "y": {"datum": 0.505}}},
  {"data": {"values": [{}]}, "mark": {"type": "text", "text": "0.7", "fontSize": 17, "align": "left", "baseline": "alphabetic", "color": "#000000"}, "encoding": {"x": {"datum": 241.2}, "y": {"datum": 0.42}}},
  {"data": {"values": [{}]}, "mark": {"type": "text", "text": "@C", "fontSize": 31, "align": "left", "baseline": "alphabetic", "color": "#000000"}, "encoding": {"x": {"datum": 257.2}, "y": {"datum": 0.505}}}
 ]
},
{
 "width": 452, "height": 344,
 "title": {"text": "(d)", "dx": -68, "dy": 23},
 "layer": [
  {"data": {"name": "bic"},
   "mark": {"type": "line", "interpolate": "monotone", "strokeWidth": 1.7},
   "encoding": {
    "x": {"field": "cap", "type": "quantitative", "scale": {"domain": [-5, 250], "nice": false, "zero": false},
          "axis": {"title": "Specific capacity (mAh g⁻¹)", "values": [0,25,50,75,100,125,150,175,200,225,250], "labelExpr": "datum.value % 50 === 0 ? datum.label : ''"}},
    "y": {"field": "V", "type": "quantitative", "scale": {"domain": [0, 3], "nice": false, "zero": false},
          "axis": {"title": "Voltage (V vs. K⁺/K)", "values": [0,0.25,0.5,0.75,1,1.25,1.5,1.75,2,2.25,2.5,2.75,3], "format": ".1f", "labelExpr": "datum.value % 0.5 === 0 ? datum.label : ''"}},
    "color": {"field": "cycle", "type": "nominal",
              "scale": {"domain": ["2nd","50th","100th","200th","300th","400th"], "range": ["#000000","#ff0000","#0000ff","#008080","#ff00ff","#808000"]},
              "legend": {"title": null, "orient": "none", "legendX": 96.6, "legendY": 10.1, "direction": "horizontal", "columns": 3,
                         "encode": {"labels": {"update": {"fill": {"signal": "datum.value === '2nd' ? '#000000' : datum.value === '50th' ? '#ff0000' : datum.value === '100th' ? '#0000ff' : datum.value === '200th' ? '#008080' : datum.value === '300th' ? '#ff00ff' : '#808000'"}}}}}},
    "detail": {"field": "branch"}
   }},
  {"data": {"values": [{}]},
   "mark": {"type": "text", "text": "Bi@C", "fontSize": 31, "align": "center", "baseline": "alphabetic", "color": "#000000"},
   "encoding": {"x": {"datum": 204}, "y": {"datum": 0.472}}}
 ]
}
]
}
